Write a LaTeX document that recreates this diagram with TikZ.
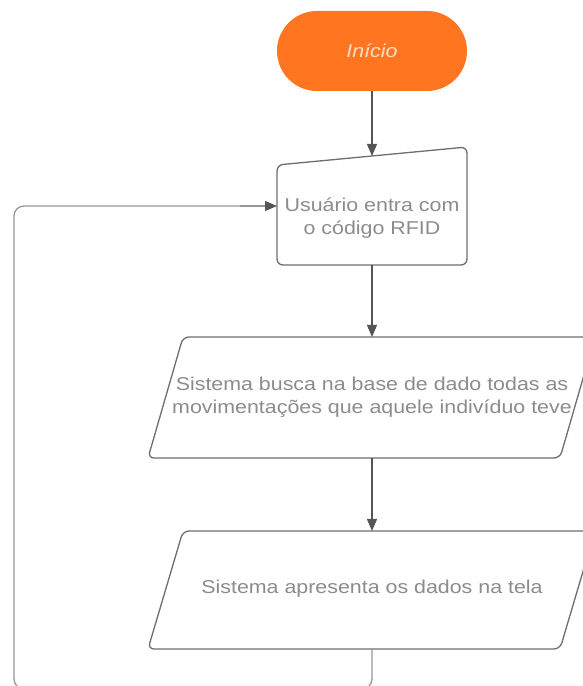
\documentclass[tikz,border=0pt]{standalone}
\usepackage{fontspec}
\setmainfont{Liberation Sans}
\newfontfamily\labfont[FakeStretch=1.15]{Liberation Sans}
\usetikzlibrary{arrows.meta,shapes.misc}
\definecolor{startorange}{RGB}{255,117,32}
\definecolor{starttext}{RGB}{252,222,205}
\definecolor{boxline}{RGB}{110,110,110}
\definecolor{labgray}{RGB}{140,140,140}
\definecolor{conline}{RGB}{85,85,85}
\definecolor{loopline}{RGB}{150,150,150}
\tikzset{
  shapebox/.style={draw=boxline, line width=1.3pt, rounded corners=6pt, fill=white},
  lab/.style={text=labgray, font=\labfont\fontsize{18.6}{23.5}\selectfont, align=center, inner sep=0pt},
  con/.style={draw=conline, line width=1.3pt, -{Triangle[length=12pt,width=10pt]}},
  loopcon/.style={draw=loopline, line width=1.3pt, rounded corners=10pt},
  looptip/.style={draw=loopline, line width=1.3pt, -{Triangle[length=12pt,width=10pt,color=conline]}},
}
\begin{document}
\begin{tikzpicture}[x=1pt,y=1pt]
\useasboundingbox (0,0) rectangle (583,686);
% start
\node[rounded rectangle, fill=startorange, minimum width=190pt, minimum height=80pt, inner sep=0pt,
      text=starttext, font=\labfont\itshape\fontsize{18.6}{22}\selectfont] (start) at (372,635) {Início};
% manual input
\draw[shapebox] (277,421) -- (467,421) -- (467,539) -- (277,521) -- cycle;
\coordinate (inTop) at (372,530);
\coordinate (inBot) at (372,421);
\coordinate (inL) at (277,480);
\node[lab] (inText) at (372,468) {Usuário entra com\\o código RFID};
% parallelogram 1
\draw[shapebox] (148,228) -- (560,228) -- (595,349) -- (183,349) -- cycle;
\coordinate (p1Top) at (372,349);
\coordinate (p1Bot) at (372,228);
\node[lab] (p1Text) at (372,289) {Sistema busca na base de dado todas as\\movimentações que aquele indivíduo teve};
% parallelogram 2
\draw[shapebox] (148,37) -- (560,37) -- (595,155) -- (183,155) -- cycle;
\coordinate (p2Top) at (372,155);
\coordinate (p2Bot) at (372,37);
\node[lab] (p2Text) at (372,97) {Sistema apresenta os dados na tela};
% connectors
\draw[con] (start.south) -- (inTop);
\draw[con] (inBot) -- (p1Top);
\draw[con] (p1Bot) -- (p2Top);
\coordinate (loopCorner) at (14,-3);
\coordinate (loopEnd) at (240,480);
\draw[loopcon] (p2Bot) |- (loopCorner) |- (loopEnd);
\draw[looptip] (loopEnd) -- (inL);
\end{tikzpicture}
\end{document}
